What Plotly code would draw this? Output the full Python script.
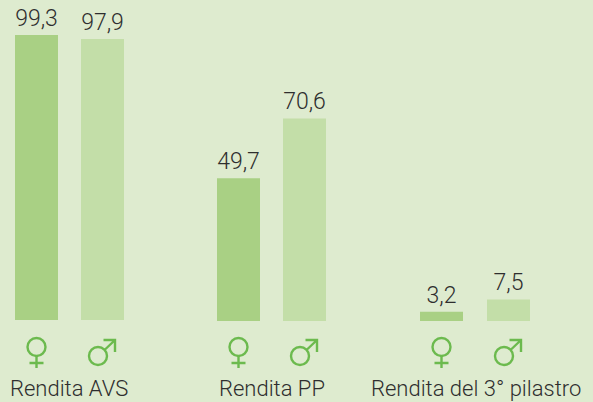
import plotly.graph_objects as go

groups = ["Rendita AVS", "Rendita PP", "Rendita del 3° pilastro"]
female = [99.3, 49.7, 3.2]
male = [97.9, 70.6, 7.5]

BG = "#deebcf"
FEMALE_C = "#a9d084"
MALE_C = "#c3dea8"
ICON = "#6cba4e"
TEXT = "#2e2e2e"
FONT = "Roboto"

# horizontal layout, in page pixels (the x axis spans the 593 px window)
female_x = [36.5, 238.5, 441.5]
male_x = [102.5, 304.5, 508.5]
label_x = [69, 271.5, 475.5]
PX_PER_UNIT = 2.87
BASE_PX = 321
group_base_px = [1, 0, 0]

fig = go.Figure()
for xs, vals, col in ((female_x, female, FEMALE_C), (male_x, male, MALE_C)):
    fig.add_trace(go.Bar(
        x=xs, y=vals, width=43, base=[b / PX_PER_UNIT for b in group_base_px],
        marker=dict(color=col, line_width=0),
        text=vals, texttemplate="%{y:.1f}", textposition="outside",
        textfont=dict(family=FONT, size=23, color=TEXT, weight=300),
        cliponaxis=False, hoverinfo="skip", showlegend=False,
    ))

shapes = []
line = dict(color=ICON, width=2.4)


def common(x):
    return dict(xref="x", yref="y", xsizemode="pixel", ysizemode="pixel",
                xanchor=x, yanchor=0, line=line, layer="above")


def female_icon(x):
    shapes.append(dict(type="circle", x0=-9, x1=9, y0=-35, y1=-17,
                       fillcolor="rgba(0,0,0,0)", **common(x)))
    shapes.append(dict(type="path", path="M 0 -35 L 0 -47 M -7 -42 L 7 -42", **common(x)))


def male_icon(x):
    shapes.append(dict(type="circle", x0=-13.5, x1=4.5, y0=-44, y1=-26,
                       fillcolor="rgba(0,0,0,0)", **common(x)))
    shapes.append(dict(type="path", path="M 2 -29 L 12.5 -19 M 1 -19 L 12.5 -19 L 12.5 -31", **common(x)))


for x in female_x:
    female_icon(x)
for x in male_x:
    male_icon(x)

annotations = [
    dict(x=x, y=-(388 - BASE_PX) / PX_PER_UNIT, xref="x", yref="y", text=g, showarrow=False,
         font=dict(family=FONT, size=22, color=TEXT, weight=300), xanchor="center", yanchor="middle")
    for x, g in zip(label_x, groups)
]

fig.update_layout(
    width=593, height=402, autosize=False,
    margin=dict(l=0, r=0, t=0, b=0),
    paper_bgcolor=BG, plot_bgcolor=BG,
    barmode="overlay", separators=",.",
    shapes=shapes, annotations=annotations,
    xaxis=dict(range=[0, 593], visible=False, fixedrange=True),
    yaxis=dict(range=[-(402 - BASE_PX) / PX_PER_UNIT, BASE_PX / PX_PER_UNIT], visible=False, fixedrange=True),
)
fig.write_html("out.html", config={"displayModeBar": False, "responsive": False},
               post_script="document.body.style.margin='0';document.body.style.overflow='hidden';")
